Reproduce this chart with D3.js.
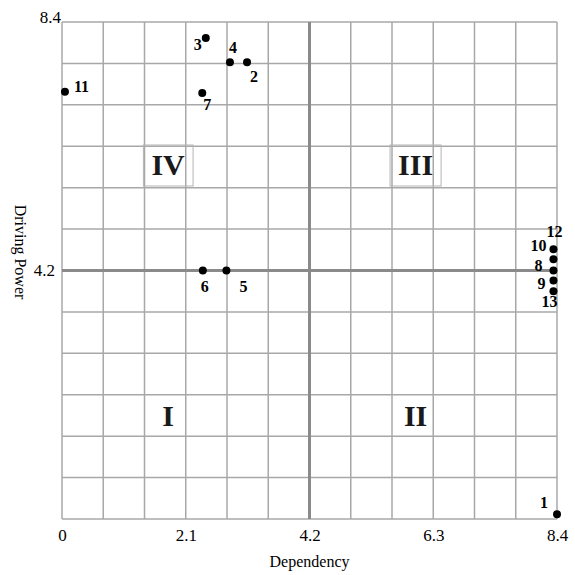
<!DOCTYPE html>
<html>
<head>
<meta charset="utf-8">
<script src="https://cdn.jsdelivr.net/npm/d3@7"></script>
<style>
  body { margin: 0; background: #fff; }
  svg text { font-family: "Liberation Serif", "Times New Roman", serif; fill: #000; }
</style>
</head>
<body>
<div id="chart"></div>
<script>
var width = 575,
    height = 575,
    margin = {top: 22, right: 18, bottom: 56, left: 62},
    plotW = width - margin.left - margin.right,
    plotH = height - margin.top - margin.bottom;

// data
var ids        = [1, 2, 3, 4, 5, 6, 7, 8, 9, 10, 11, 12, 13];
var dependency = [8.4, 3.14, 2.44, 2.85, 2.79, 2.39, 2.38, 8.34, 8.34, 8.34, 0.05, 8.34, 8.34];
var driving    = [0.08, 7.72, 8.13, 7.72, 4.2, 4.2, 7.2, 4.2, 4.03, 4.39, 7.22, 4.56, 3.85];

var xTicks = [0, 2.1, 4.2, 6.3, 8.4];
var yTicks = [4.2, 8.4];

var quadrants = ['I', 'II', 'III', 'IV'];
var quadX     = [1.8, 6.0, 6.0, 1.8];
var quadY     = [1.75, 1.75, 6.0, 6.0];
var quadBoxed = [false, false, true, true];

// label placement for each point id: [dx, dy, anchor]
var labelPos = {
  1: [-9, -6, 'end'],   2: [3, 20, 'start'],   3: [-4, 12, 'end'],
  4: [-1, -9, 'start'], 5: [17, 21, 'middle'], 6: [2, 21, 'middle'],
  7: [1, 17, 'start'],  8: [-11, 0, 'end'],    9: [-8, 8, 'end'],
  10: [-7, -8, 'end'],  11: [9, 0, 'start'],   12: [9, -12, 'end'],
  13: [4, 16, 'end']
};

var svg = d3.select('#chart').append('svg')
    .attr('width', width)
    .attr('height', height)
    .attr('font-family', '"Liberation Serif", serif');

var g = svg.append('g')
    .attr('transform', 'translate(' + margin.left + ',' + margin.top + ')');

var x = d3.scaleLinear().domain([0, 8.4]).range([0, plotW]);
var y = d3.scaleLinear().domain([0, 8.4]).range([plotH, 0]);

// grid, 12 x 12 cells
var gridVals = d3.range(13).map(function(i) { return i * 8.4 / 12; });

g.selectAll('.vgrid').data(gridVals).enter().append('line')
    .attr('x1', function(d) { return x(d); })
    .attr('x2', function(d) { return x(d); })
    .attr('y1', 0).attr('y2', plotH)
    .attr('stroke', '#a8a8a8').attr('stroke-width', 1.5);

g.selectAll('.hgrid').data(gridVals).enter().append('line')
    .attr('y1', function(d) { return y(d); })
    .attr('y2', function(d) { return y(d); })
    .attr('x1', 0).attr('x2', plotW)
    .attr('stroke', '#a8a8a8').attr('stroke-width', 1.5);

// centre lines
g.append('line')
    .attr('x1', x(4.2)).attr('x2', x(4.2)).attr('y1', 0).attr('y2', plotH)
    .attr('stroke', '#8a8a8a').attr('stroke-width', 3);
g.append('line')
    .attr('y1', y(4.2)).attr('y2', y(4.2)).attr('x1', 0).attr('x2', plotW)
    .attr('stroke', '#8a8a8a').attr('stroke-width', 3);

// axes
var xAxis = d3.axisBottom(x)
    .tickValues(xTicks)
    .tickSize(0)
    .tickPadding(10)
    .tickFormat(function(d) { return d === 0 ? '0' : d.toFixed(1); });

var xg = g.append('g')
    .attr('transform', 'translate(0,' + plotH + ')')
    .call(xAxis)
    .attr('font-family', null);
xg.select('.domain').remove();
xg.selectAll('text').style('font-size', '17px');

var yAxis = d3.axisLeft(y)
    .tickValues(yTicks)
    .tickSize(0)
    .tickPadding(7)
    .tickFormat(function(d) { return d.toFixed(1); });

var yg = g.append('g').call(yAxis).attr('font-family', null);
yg.select('.domain').remove();
yg.selectAll('text').style('font-size', '17px');
yg.selectAll('text').filter(function(d) { return d === 8.4; })
    .attr('x', -1).attr('dy', '0.05em');

// axis titles
svg.append('text')
    .attr('x', margin.left + x(4.2))
    .attr('y', 567)
    .attr('text-anchor', 'middle')
    .style('font-size', '16px')
    .text('Dependency');

svg.append('text')
    .attr('transform', 'translate(15,252) rotate(90)')
    .attr('text-anchor', 'middle')
    .style('font-size', '16px')
    .text('Driving Power');

// quadrant labels
var q = g.selectAll('.quad').data(quadrants).enter().append('g');

q.append('text')
    .attr('x', function(d, i) { return x(quadX[i]); })
    .attr('y', function(d, i) { return y(quadY[i]) + 10.5; })
    .attr('text-anchor', 'middle')
    .style('font-size', '30px')
    .style('font-weight', 'bold')
    .style('fill', '#1a1a1a')
    .text(function(d) { return d; });

q.each(function(d, i) {
  if (!quadBoxed[i]) return;
  var b = d3.select(this).select('text').node().getBBox();
  d3.select(this).insert('rect', 'text')
      .attr('x', b.x - 8).attr('y', y(quadY[i]) - 19)
      .attr('width', b.width + 16).attr('height', 41)
      .attr('fill', 'none')
      .attr('stroke', '#b4b4b4').attr('stroke-width', 1);
});

// points
var pts = ids.map(function(id, i) {
  return {id: id, dep: dependency[i], drv: driving[i]};
});

g.selectAll('.pt').data(pts).enter().append('circle')
    .attr('cx', function(d) { return x(d.dep); })
    .attr('cy', function(d) { return y(d.drv); })
    .attr('r', 4)
    .attr('fill', '#000');

g.selectAll('.lbl').data(pts).enter().append('text')
    .attr('x', function(d) { return x(d.dep) + labelPos[d.id][0]; })
    .attr('y', function(d) { return y(d.drv) + labelPos[d.id][1]; })
    .attr('text-anchor', function(d) { return labelPos[d.id][2]; })
    .style('font-size', '16px')
    .style('font-weight', 'bold')
    .text(function(d) { return d.id; });
</script>
</body>
</html>
